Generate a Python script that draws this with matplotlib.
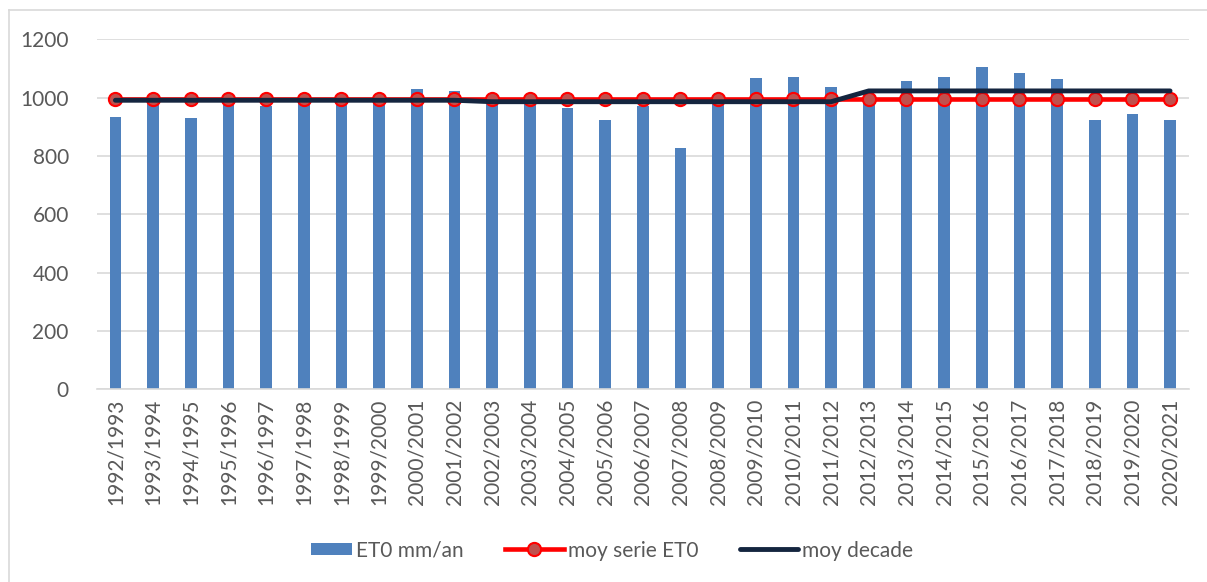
import matplotlib
matplotlib.use('Agg')
import matplotlib.pyplot as plt
from matplotlib.lines import Line2D
from matplotlib.patches import Rectangle
from matplotlib.legend_handler import HandlerPatch
import numpy as np

plt.rcParams['font.family'] = ['Lato', 'DejaVu Sans']

seasons = [
    '1992/1993', '1993/1994', '1994/1995', '1995/1996', '1996/1997', '1997/1998',
    '1998/1999', '1999/2000', '2000/2001', '2001/2002', '2002/2003', '2003/2004',
    '2004/2005', '2005/2006', '2006/2007', '2007/2008', '2008/2009', '2009/2010',
    '2010/2011', '2011/2012', '2012/2013', '2013/2014', '2014/2015', '2015/2016',
    '2016/2017', '2017/2018', '2018/2019', '2019/2020', '2020/2021',
]
et0 = [934, 1000, 929, 1005, 971, 1005, 1000, 1000, 1029, 1023,
       990, 995, 964, 923, 972, 827, 995, 1069, 1070, 1038,
       1000, 1058, 1070, 1104, 1086, 1064, 923, 945, 923]
moy_serie = [997, 997, 997, 997, 997, 997, 997, 997, 997, 997,
             997, 997, 997, 997, 997, 997, 997, 997, 997, 997,
             997, 997, 997, 997, 997, 997, 997, 997, 997]
moy_decade = [991, 991, 991, 991, 991, 991, 991, 991, 991, 991,
              986, 986, 986, 986, 986, 986, 986, 986, 986, 986,
              1023, 1023, 1023, 1023, 1023, 1023, 1023, 1023, 1023]

TXT = '#595959'
GRID = '#d9d9d9'


def short_box(legend, orig_handle, xdescent, ydescent, width, height, fontsize):
    # Excel draws a shorter swatch for the bar series
    w = width * 0.7
    return Rectangle((width - w - xdescent, -ydescent + height * 0.1), w, height * 0.8)


fig = plt.figure(figsize=(12.07, 5.82), dpi=100)
ax = fig.add_axes([0.080, 0.331, 0.905, 0.6015])

x = np.arange(len(seasons))
bars = ax.bar(x, et0, width=0.31, color='#4f81bd', label='ET0 mm/an', zorder=2)
l1, = ax.plot(x, moy_serie, color='red', lw=3.3, marker='o', markersize=9.5,
              markerfacecolor='#c0504d', markeredgecolor='red', markeredgewidth=1.5,
              label='moy serie ET0', zorder=3)
l2, = ax.plot(x, moy_decade, color='#14253f', lw=3.5, solid_capstyle='round',
              label='moy decade', zorder=4)

ax.set_xlim(-0.5, len(seasons) - 0.5)
ax.set_ylim(0, 1200)
ax.set_yticks(range(0, 1201, 200))
ax.set_xticks(x)
ax.set_xticklabels(seasons, rotation=90)
ax.tick_params(axis='both', length=0, labelsize=15, colors=TXT)
ax.tick_params(axis='x', pad=7)
ax.tick_params(axis='y', pad=20)
ax.grid(axis='y', color=GRID, lw=1.2, zorder=0)
ax.set_axisbelow(True)
for s in ['top', 'right', 'left']:
    ax.spines[s].set_visible(False)
ax.spines['bottom'].set_color(GRID)
ax.spines['bottom'].set_linewidth(1.2)

bar_handle = bars[0]
leg = fig.legend([bar_handle, l1, l2], ['ET0 mm/an', 'moy serie ET0', 'moy decade'],
                 loc='center', bbox_to_anchor=(0.5, 0.054), ncol=3, frameon=False,
                 fontsize=15, handlelength=2.8, columnspacing=2.0, handletextpad=0.2,
                 handler_map={bar_handle: HandlerPatch(patch_func=short_box)})
for t in leg.get_texts():
    t.set_color(TXT)

# light frame around the chart area
fig.add_artist(Line2D([9 / 1207, 1.0], [1 - 10 / 582, 1 - 10 / 582], color=GRID, lw=1.2))
fig.add_artist(Line2D([9 / 1207, 9 / 1207], [0.0, 1 - 10 / 582], color=GRID, lw=1.2))

fig.savefig('out.png', dpi=100)
